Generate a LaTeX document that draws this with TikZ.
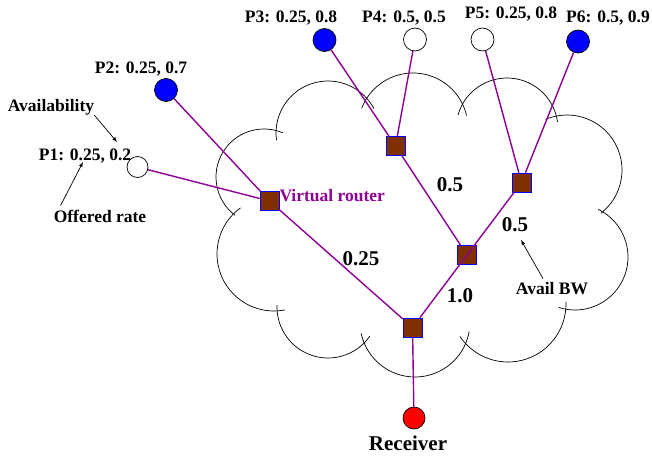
\documentclass[tikz,border=0pt]{standalone}
\usepackage{fontspec}
\setmainfont{Liberation Serif}
\usetikzlibrary{arrows,positioning,calc}

\definecolor{vrpurple}{RGB}{144,0,150}
\definecolor{vrbrown}{RGB}{128,48,0}

\begin{document}
\begin{tikzpicture}[x=1pt,y=-1pt]

\tikzset{every node/.style = {font=\bfseries\fontsize{17.5}{20}\selectfont, inner sep=0pt}}
\tikzset{every edge/.append style = {>=latex, line width=0.7pt}}
\tikzstyle{peer}   = [circle, draw, line width=0.7pt, minimum size=23pt]
\tikzstyle{router} = [rectangle, draw=blue, line width=0.6pt, fill=vrbrown, minimum size=19pt]
\tikzstyle{link}   = [draw=vrpurple, line width=1.4pt]
\tikzstyle{bw}     = [font=\bfseries\fontsize{21}{24}\selectfont]
\tikzstyle{cloud}  = [line width=0.7pt]

\useasboundingbox (0,0) rectangle (652,455);

% the cloud, arc by arc
\foreach \cx/\cy/\r/\a/\b in {264/177/48/127/293, 328/133/52/172/332, 413/128/55/201/347,
                              507/129/51/196/352, 567/170/55/247/412, 575/257/53/-64/108,
                              508/304/58/-2/146, 415/322/55/10/168, 328/307/51/35/182,
                              274/254/57/79/234}
  \draw[cloud] ($(\cx,\cy)+(\a:\r)$) arc (\a:\b:\r);

\node[peer, fill=white, minimum size=21pt] (p1)  at (137.5,167)  {};
\node[peer, fill=blue]                     (p2)  at (166,90)     {};
\node[peer, fill=blue]                     (p3)  at (324.5,40)   {};
\node[peer, fill=white]                    (p4)  at (415,39.5)   {};
\node[peer, fill=white]                    (p5)  at (482.5,39.5) {};
\node[peer, fill=blue]                     (p6)  at (578,41.5)   {};
\node[peer, fill=red, minimum size=22pt]   (rcv) at (414,418)    {};

\node[router] (r12)  at (269.5,201)   {};
\node[router] (r34)  at (395.5,146)   {};
\node[router] (r56)  at (521.5,182.5) {};
\node[router] (rmid) at (467,255)     {};
\node[router] (root) at (412.5,327.5) {};

\draw[link] (p1)   -- (r12);
\draw[link] (p2)   -- (r12);
\draw[link] (r12)  -- (root);
\draw[link] (p3)   -- (r34);
\draw[link] (p4)   -- (r34);
\draw[link] (r34)  -- (rmid);
\draw[link] (p5)   -- (r56);
\draw[link] (p6)   -- (r56);
\draw[link] (r56)  -- (root);
\draw[link] (root) -- (rcv);

\node (l_p1) at (85,156)  {P1: 0.25, 0.2};
\node (l_p2) at (141,69)  {P2: 0.25, 0.7};
\node (l_p3) at (291,18)  {P3: 0.25, 0.8};
\node (l_p4) at (404,18)  {P4: 0.5, 0.5};
\node (l_p5) at (511,14)  {P5: 0.25, 0.8};
\node (l_p6) at (608,18)  {P6: 0.5, 0.9};

\node (avail)   at (51,107)  {Availability};
\node (offered) at (100,216) {Offered rate};
\node (availbw) at (552,289) {Avail BW};
\node[text=vrpurple] (l_vr) [right=0pt of r12, yshift=5pt] {Virtual router};

\node[bw] (bw_r12)  at (361,259) {0.25};
\node[bw] (bw_r34)  at (450,185) {0.5};
\node[bw] (bw_r56)  at (515,225) {0.5};
\node[bw] (bw_rmid) at (460,296) {1.0};
\node[bw] (l_rcv) [below=6pt of rcv, xshift=-6pt] {Receiver};

\coordinate (av_tip) at (117,142);
\coordinate (or_tip) at (83,162);
\coordinate (bw_tip) at (521,240);

\draw (avail.south east)                   edge[->] (av_tip);
\draw ($(offered.north west) + (7,-4)$)    edge[->] (or_tip);
\draw ($(availbw.north) + (-9,-4)$)        edge[->] (bw_tip);

\end{tikzpicture}
\end{document}
